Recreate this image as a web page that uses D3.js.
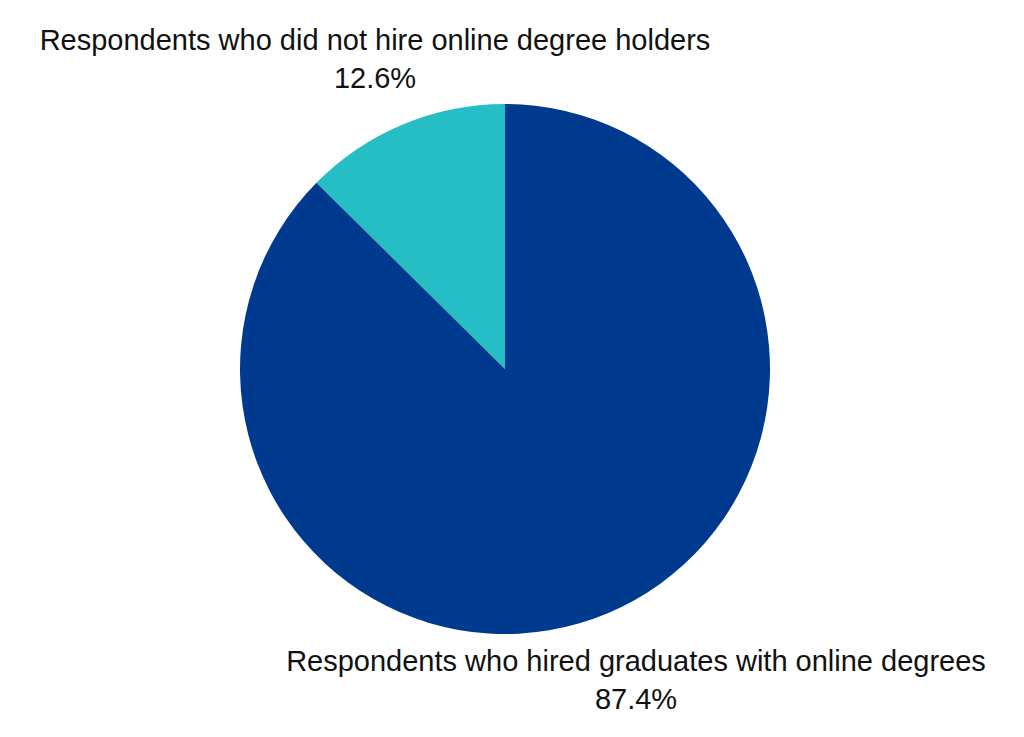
<!DOCTYPE html>
<html>
<head>
<meta charset="utf-8">
<script src="https://cdn.jsdelivr.net/npm/d3@7"></script>
<style>
  body { margin: 0; background: #fff; }
  svg { display: block; }
</style>
</head>
<body>
<svg id="chart" width="1024" height="737"></svg>
<script>
  var categories = ["Respondents who did not hire online degree holders", "Respondents who hired graduates with online degrees"];
  var values = [12.6, 87.4];
  var colors = ["#24bec4", "#003a8f"];

  var svg = d3.select("#chart");
  var cx = 505, cy = 369, radius = 265;

  // small slice sits left of 12 o'clock, big one runs clockwise from 12
  var pie = d3.pie().sort(null).startAngle(-2 * Math.PI).endAngle(0);
  var arcs = pie(values.slice().reverse()).reverse();

  var arc = d3.arc().innerRadius(0).outerRadius(radius);

  var g = svg.append("g").attr("transform", "translate(" + cx + "," + cy + ")");
  g.selectAll("path")
    .data(arcs)
    .enter().append("path")
    .attr("d", arc)
    .attr("fill", function(d, i) { return colors[i]; });

  var labels = [
    { x: 375, y: 50 },
    { x: 636, y: 671 }
  ];

  var lab = svg.selectAll("g.label")
    .data(categories)
    .enter().append("g")
    .attr("class", "label")
    .attr("transform", function(d, i) { return "translate(" + labels[i].x + "," + labels[i].y + ")"; });

  lab.append("text")
    .attr("text-anchor", "middle")
    .style("font-family", "'Liberation Sans', Arial, sans-serif")
    .style("font-size", "29px")
    .attr("fill", "#111")
    .text(function(d) { return d; });

  lab.append("text")
    .attr("text-anchor", "middle")
    .attr("y", 38)
    .style("font-family", "'Liberation Sans', Arial, sans-serif")
    .style("font-size", "29px")
    .attr("fill", "#111")
    .text(function(d, i) { return values[i].toFixed(1) + "%"; });
</script>
</body>
</html>
